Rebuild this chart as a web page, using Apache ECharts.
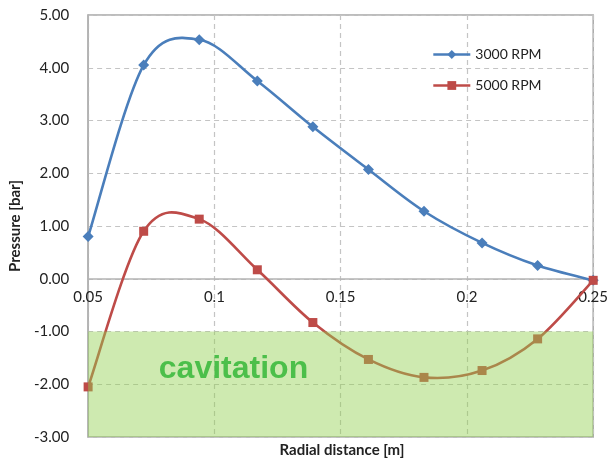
<!DOCTYPE html>
<html>
<head>
<meta charset="utf-8">
<script src="https://cdn.jsdelivr.net/npm/echarts@6/dist/echarts.min.js"></script>
<style>
html,body{margin:0;padding:0;background:#fff;}
#chart{width:611px;height:463px;}
</style>
</head>
<body>
<div id="chart"></div>
<script>
const radialDistance = [0.05, 0.072, 0.094, 0.117, 0.139, 0.161, 0.183, 0.206, 0.228, 0.25];
const rpm3000 = [0.80, 4.05, 4.53, 3.75, 2.88, 2.07, 1.28, 0.68, 0.25, -0.03];
const rpm5000 = [-2.05, 0.90, 1.13, 0.17, -0.83, -1.53, -1.87, -1.74, -1.14, -0.03];
const seriesNames = ['3000 RPM', '5000 RPM'];
const seriesColors = ['#4a7ebb', '#be4b48'];
const cavitationRange = [-1, -3];
const cavitationLabel = 'cavitation';
const xAxisName = 'Radial distance [m]';
const yAxisName = 'Pressure [bar]';
const yMin = -3, yMax = 5;

const font = 'Lato, "Open Sans", sans-serif';
const gridTop = 15, gridBottom = 26, chartHeight = 463;
const chart = echarts.init(document.getElementById('chart'), null, {renderer: 'canvas'});

function pairs(xs, ys) { return xs.map((x, i) => [x, ys[i]]); }

// x axis line sits at pressure 0 (offset from the bottom of the plot)
const plotH = chartHeight - gridTop - gridBottom;
const zeroOffset = -plotH * (0 - yMin) / (yMax - yMin);

// Smooth curve (Catmull-Rom style, like spreadsheet smoothing) drawn through
// the data points projected by the chart's own axes.
function curveSeries(name, ys, color) {
  return {
    name: name,
    type: 'custom',
    z: 2,
    silent: true,
    data: pairs(radialDistance, ys),
    encode: {x: 0, y: 1},
    renderItem: function (params, api) {
      const i = params.dataIndex;
      const n = radialDistance.length;
      if (i >= n - 1) return null;
      const P = k => api.coord([radialDistance[k], ys[k]]);
      const p0 = P(Math.max(i - 1, 0)), p1 = P(i), p2 = P(i + 1), p3 = P(Math.min(i + 2, n - 1));
      const t = 6;
      return {
        type: 'bezierCurve',
        shape: {
          x1: p1[0], y1: p1[1], x2: p2[0], y2: p2[1],
          cpx1: p1[0] + (p2[0] - p0[0]) / t, cpy1: p1[1] + (p2[1] - p0[1]) / t,
          cpx2: p2[0] - (p3[0] - p1[0]) / t, cpy2: p2[1] - (p3[1] - p1[1]) / t
        },
        style: {stroke: color, lineWidth: 2.6, fill: null, lineCap: 'round'}
      };
    }
  };
}

chart.setOption({
  backgroundColor: '#ffffff',
  animation: false,
  title: {
    text: xAxisName,
    left: 342,
    top: 443,
    textAlign: 'center',
    padding: 0,
    textStyle: {fontFamily: font, fontSize: 15, fontWeight: 'bold', color: '#222'}
  },
  grid: {left: 87, right: 15, top: gridTop, bottom: gridBottom, containLabel: false,
    show: true, borderColor: '#a8a8a8', borderWidth: 1.5, backgroundColor: 'transparent'},
  legend: {
    orient: 'vertical',
    left: 427,
    top: 41,
    itemWidth: 37,
    itemHeight: 11,
    itemGap: 14,
    textStyle: {fontFamily: font, fontSize: 14, color: '#222', lineHeight: 17},
    data: seriesNames.map((n, k) => ({
      name: n,
      lineStyle: {color: seriesColors[k], width: 2.6, opacity: 1}
    }))
  },
  xAxis: {
    type: 'value',
    position: 'bottom',
    offset: zeroOffset,
    min: 0.05, max: 0.25, interval: 0.05,
    axisLine: {show: true, onZero: false, lineStyle: {color: '#b4b4b4', width: 1.5}},
    axisTick: {show: false},
    axisLabel: {fontFamily: font, fontSize: 15, color: '#222', margin: 11,
      formatter: v => String(Math.round(v * 100) / 100)},
    splitLine: {show: true, lineStyle: {color: '#c4c4c4', type: [5, 4], width: 1.2}}
  },
  yAxis: {
    type: 'value',
    min: yMin, max: yMax, interval: 1,
    axisLine: {show: true, onZero: false, lineStyle: {color: '#b0b0b0', width: 1.5}},
    axisTick: {show: false},
    axisLabel: {fontFamily: font, fontSize: 15, color: '#222', margin: 19,
      formatter: v => v.toFixed(2)},
    splitLine: {show: true, lineStyle: {color: '#c4c4c4', type: [5, 4], width: 1.2}},
    name: yAxisName,
    nameLocation: 'middle',
    nameGap: 63,
    nameRotate: 90,
    nameTextStyle: {fontFamily: font, fontSize: 15, fontWeight: 'bold', color: '#222'}
  },
  series: [
    curveSeries(seriesNames[0] + ' curve', rpm3000, seriesColors[0]),
    curveSeries(seriesNames[1] + ' curve', rpm5000, seriesColors[1]),
  {
    name: seriesNames[0],
    type: 'line',
    data: pairs(radialDistance, rpm3000),
    symbol: 'diamond',
    symbolSize: 11,
    lineStyle: {color: seriesColors[0], width: 2.6, opacity: 0},
    itemStyle: {color: seriesColors[0]},
    clip: false,
    z: 4
  }, {
    name: seriesNames[1],
    type: 'line',
    data: pairs(radialDistance, rpm5000),
    symbol: 'rect',
    symbolSize: 9,
    lineStyle: {color: seriesColors[1], width: 2.6, opacity: 0},
    itemStyle: {color: seriesColors[1]},
    clip: false,
    z: 5,
    markArea: {
      silent: true,
      z: 10,
      itemStyle: {color: 'rgba(146,208,80,0.45)'},
      label: {
        show: true,
        position: ['14%', '21%'],
        fontFamily: '"Liberation Sans", Arial, sans-serif',
        fontWeight: 'bold',
        fontSize: 32,
        color: '#4cbf4a'
      },
      data: [[
        {name: cavitationLabel, xAxis: 0.05, yAxis: cavitationRange[0]},
        {xAxis: 0.25, yAxis: cavitationRange[1]}
      ]]
    }
  }]
});
</script>
</body>
</html>
